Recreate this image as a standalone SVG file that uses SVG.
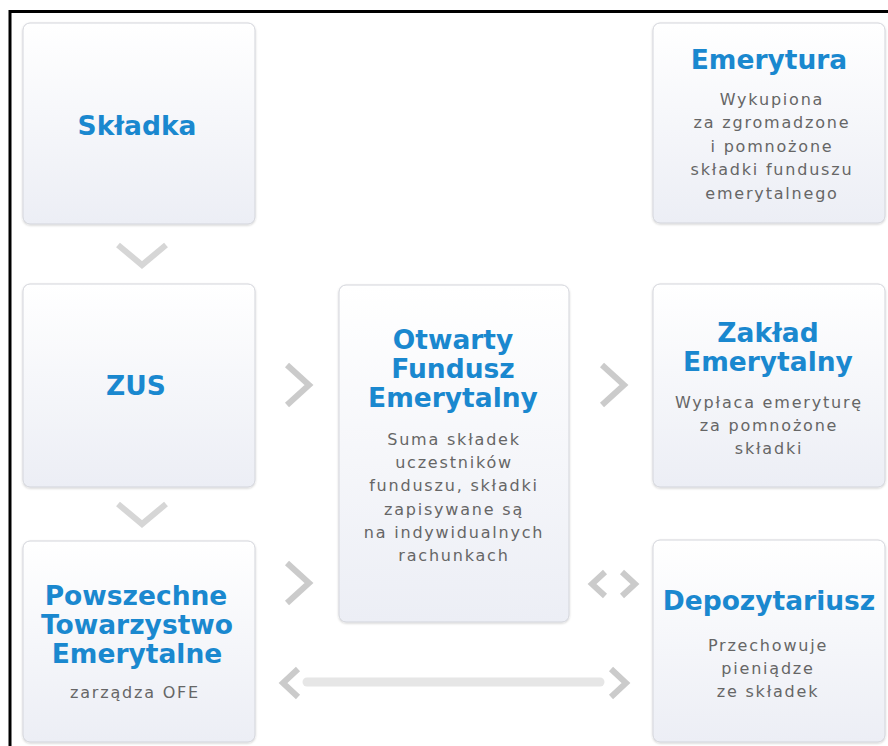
<svg xmlns="http://www.w3.org/2000/svg" width="888" height="746" viewBox="0 0 888 746">
<defs>
<linearGradient id="boxg" x1="0" y1="0" x2="0" y2="1">
<stop offset="0" stop-color="#ffffff"/>
<stop offset="1" stop-color="#eceef5"/>
</linearGradient>
<filter id="sh" x="-5%" y="-5%" width="110%" height="110%">
<feDropShadow dx="0" dy="1" stdDeviation="1.2" flood-color="#000" flood-opacity="0.18"/>
</filter>
</defs>
<style>
.box{fill:url(#boxg);stroke:#d3d5db;stroke-width:1;filter:url(#sh)}
.t{font-family:"DejaVu Sans",Verdana,sans-serif;font-weight:bold;font-size:26.5px;fill:#1a88cf;text-anchor:middle}
.b{font-family:"DejaVu Sans",Verdana,sans-serif;font-size:16px;letter-spacing:1.8px;fill:#666666;text-anchor:middle}
.ch{fill:none;stroke:#cbcbcb;stroke-width:6;stroke-linejoin:miter;stroke-linecap:butt}
.chd{fill:none;stroke:#d6d6d6;stroke-width:6;stroke-linejoin:miter;stroke-linecap:butt}
.bar{stroke:#e6e6e6;stroke-width:9;stroke-linecap:round}
</style>
<rect width="888" height="746" fill="#ffffff"/>
<path d="M10 746 V11.5 H888" fill="none" stroke="#000" stroke-width="3"/>

<g id="skladka">
<rect class="box" x="23" y="23" width="232" height="201" rx="7"/>
<text class="t" x="137" y="135">Składka</text>
</g>

<g id="zus">
<rect class="box" x="23" y="284" width="232" height="203" rx="7"/>
<text class="t" x="136" y="395">ZUS</text>
</g>

<g id="pte">
<rect class="box" x="23" y="541" width="232" height="201" rx="7"/>
<text class="t" x="136" y="605">Powszechne</text>
<text class="t" x="137" y="634">Towarzystwo</text>
<text class="t" x="137" y="663">Emerytalne</text>
<text class="b" x="135" y="698">zarządza OFE</text>
</g>

<g id="ofe">
<rect class="box" x="339" y="285" width="230" height="337" rx="7"/>
<text class="t" x="453" y="349">Otwarty</text>
<text class="t" x="453" y="378">Fundusz</text>
<text class="t" x="453" y="407">Emerytalny</text>
<text class="b" x="454" y="445">Suma składek</text>
<text class="b" x="454" y="468">uczestników</text>
<text class="b" x="454" y="491">funduszu, składki</text>
<text class="b" x="454" y="515">zapisywane są</text>
<text class="b" x="454" y="538">na indywidualnych</text>
<text class="b" x="454" y="561">rachunkach</text>
</g>

<g id="emerytura">
<rect class="box" x="653" y="23" width="232" height="200" rx="7"/>
<text class="t" x="769" y="69">Emerytura</text>
<text class="b" x="772" y="105">Wykupiona</text>
<text class="b" x="772" y="128">za zgromadzone</text>
<text class="b" x="772" y="152">i pomnożone</text>
<text class="b" x="772" y="175">składki funduszu</text>
<text class="b" x="772" y="199">emerytalnego</text>
</g>

<g id="zaklad">
<rect class="box" x="653" y="284" width="232" height="203" rx="7"/>
<text class="t" x="768" y="342">Zakład</text>
<text class="t" x="768" y="371">Emerytalny</text>
<text class="b" x="769" y="408">Wypłaca emeryturę</text>
<text class="b" x="769" y="431">za pomnożone</text>
<text class="b" x="769" y="454">składki</text>
</g>

<g id="depozytariusz">
<rect class="box" x="653" y="540" width="232" height="202" rx="7"/>
<text class="t" x="769" y="610">Depozytariusz</text>
<text class="b" x="768" y="651">Przechowuje</text>
<text class="b" x="768" y="674">pieniądze</text>
<text class="b" x="768" y="697">ze składek</text>
</g>

<g id="connectors">
<polyline class="chd" points="118,245 142,265 166,245"/>
<polyline class="chd" points="118,504 142,524 166,504"/>
<polyline class="ch" points="287,365 309,385 287,405"/>
<polyline class="ch" points="602,365 624,385 602,405"/>
<polyline class="ch" points="287,563 309,583 287,603"/>
<polyline class="ch" points="605,572 592,584 605,596"/>
<polyline class="ch" points="622,572 635,584 622,596"/>
<line class="bar" x1="307" y1="682" x2="600" y2="682"/>
<polyline class="ch" points="298,669 283,683 298,697"/>
<polyline class="ch" points="611,669 626,683 611,697"/>
</g>
</svg>
